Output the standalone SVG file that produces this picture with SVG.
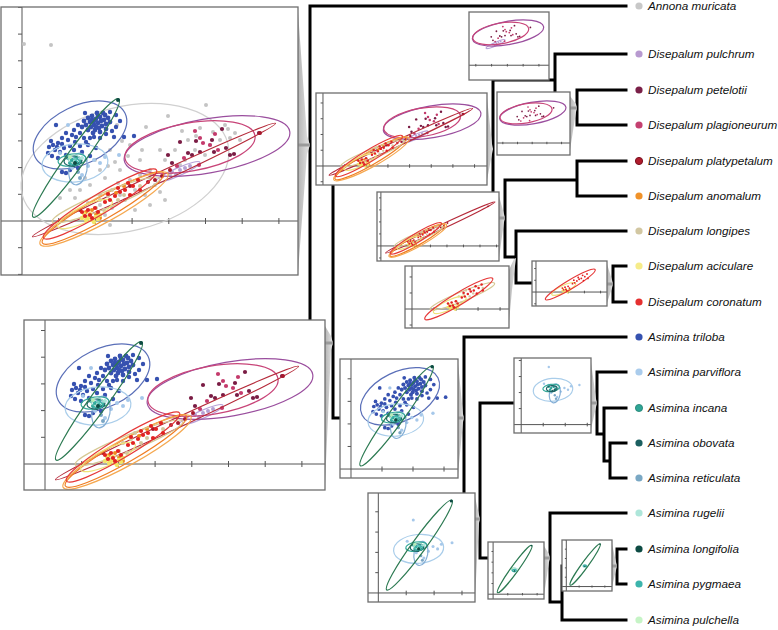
<svg xmlns="http://www.w3.org/2000/svg" width="778" height="630" viewBox="0 0 778 630">
<style>
.tr{fill:none;stroke:#000;stroke-width:3;stroke-linecap:square;stroke-linejoin:miter}
.e{fill:none;stroke-width:1.2;vector-effect:non-scaling-stroke}
.ax{fill:none;stroke:#555;stroke-width:1;vector-effect:non-scaling-stroke}
.pbg{fill:#fff;stroke:none}
.pfr{fill:none;stroke:#6e6e6e;stroke-width:1.3}
.sh{fill:url(#shd);stroke:none}
.sl{stroke:#9a9a9a;stroke-width:3}
.lb{font-family:"Liberation Sans",Arial,sans-serif;font-style:italic;font-size:11.7px;fill:#111}
</style>
<defs>
<linearGradient id="shd" x1="0" y1="0" x2="1" y2="0"><stop offset="0" stop-color="#b4b4b4"/><stop offset="1" stop-color="#e6e6e6"/></linearGradient>
<clipPath id="cL1"><rect x="1" y="7" width="297" height="268"/></clipPath>
<clipPath id="cL2"><rect x="24" y="320" width="301" height="170"/></clipPath>
<clipPath id="cT"><rect x="469" y="12" width="80" height="68"/></clipPath>
<clipPath id="cP2"><rect x="497" y="92" width="73" height="63"/></clipPath>
<clipPath id="cM1"><rect x="316" y="93" width="171" height="92"/></clipPath>
<clipPath id="cM2"><rect x="377" y="192" width="122" height="69"/></clipPath>
<clipPath id="cM3"><rect x="405" y="266" width="104" height="62"/></clipPath>
<clipPath id="cS"><rect x="532" y="261" width="75" height="45"/></clipPath>
<clipPath id="cA1"><rect x="340" y="359" width="118" height="119"/></clipPath>
<clipPath id="cA2"><rect x="368" y="493" width="107" height="109"/></clipPath>
<clipPath id="cA5"><rect x="514" y="358" width="77" height="75"/></clipPath>
<clipPath id="cA3"><rect x="488" y="542" width="56" height="57"/></clipPath>
<clipPath id="cA4"><rect x="562" y="540" width="50" height="51"/></clipPath>

<g id="axes">
<line class="ax" x1="22" y1="-600" x2="22" y2="900"/>
<line class="ax" x1="-600" y1="221" x2="1000" y2="221"/>
<path class="ax" d="M58.7,218V224M95.4,218V224M132.1,218V224M168.8,218V224M205.5,218V224M242.2,218V224M278.9,218V224M315.6,218V224M352.3,218V224M18,194.3H22M18,167.6H22M18,140.9H22M18,114.2H22M18,87.5H22M18,60.8H22M18,34.1H22M18,7.4H22M18,-19.3H22M18,247.7H22M18,274.4H22M18,301.1H22"/>
</g>

<g id="sp-ann">
<ellipse class="e" stroke="#d0d0d0" cx="125" cy="169" rx="106" ry="62" transform="rotate(-14 125 169)"/>
<g fill="#c4c4c4">
<circle cx="24" cy="44" r="2"/><circle cx="51" cy="45" r="2"/><circle cx="206" cy="105" r="2"/><circle cx="168" cy="116" r="2"/><circle cx="146" cy="127" r="2"/><circle cx="117" cy="125" r="2"/><circle cx="200" cy="128" r="2"/><circle cx="213" cy="132" r="2"/><circle cx="225" cy="125" r="2"/><circle cx="188" cy="140" r="2"/><circle cx="160" cy="150" r="2"/><circle cx="140" cy="160" r="2"/><circle cx="120" cy="170" r="2"/><circle cx="105" cy="178" r="2"/><circle cx="95" cy="160" r="2"/><circle cx="110" cy="150" r="2"/><circle cx="130" cy="145" r="2"/><circle cx="150" cy="170" r="2"/><circle cx="165" cy="160" r="2"/><circle cx="175" cy="150" r="2"/><circle cx="155" cy="185" r="2"/><circle cx="135" cy="190" r="2"/><circle cx="120" cy="195" r="2"/><circle cx="100" cy="195" r="2"/><circle cx="90" cy="185" r="2"/><circle cx="80" cy="190" r="2"/><circle cx="75" cy="198" r="2"/><circle cx="100" cy="205" r="2"/><circle cx="112" cy="208" r="2"/><circle cx="125" cy="200" r="2"/><circle cx="145" cy="195" r="2"/><circle cx="160" cy="192" r="2"/><circle cx="130" cy="180" r="2"/><circle cx="118" cy="183" r="2"/><circle cx="140" cy="175" r="2"/><circle cx="150" cy="178" r="2"/><circle cx="170" cy="175" r="2"/><circle cx="185" cy="160" r="2"/><circle cx="195" cy="150" r="2"/><circle cx="210" cy="145" r="2"/><circle cx="220" cy="140" r="2"/><circle cx="230" cy="138" r="2"/><circle cx="240" cy="140" r="2"/><circle cx="205" cy="155" r="2"/><circle cx="180" cy="165" r="2"/><circle cx="115" cy="162" r="2"/><circle cx="100" cy="170" r="2"/><circle cx="85" cy="178" r="2"/><circle cx="70" cy="190" r="2"/><circle cx="60" cy="198" r="2"/><circle cx="88" cy="203" r="2"/><circle cx="105" cy="215" r="2"/><circle cx="135" cy="210" r="2"/><circle cx="150" cy="205" r="2"/><circle cx="165" cy="200" r="2"/><circle cx="110" cy="225" r="2"/><circle cx="228" cy="129" r="2"/><circle cx="235" cy="133" r="2"/><circle cx="196" cy="136" r="2"/><circle cx="182" cy="131" r="2"/><circle cx="122" cy="141" r="2"/><circle cx="108" cy="166" r="2"/><circle cx="128" cy="156" r="2"/><circle cx="142" cy="150" r="2"/>
</g>
</g>

<g id="sp-pet">
<ellipse class="e" stroke="#9a4e9e" cx="207" cy="146" rx="84" ry="27" transform="rotate(-10 207 146)"/>
<g fill="#7a1c44">
<circle cx="222" cy="129" r="2.1"/><circle cx="259" cy="133" r="2.1"/><circle cx="180" cy="142" r="2.1"/><circle cx="196" cy="141" r="2.1"/><circle cx="212" cy="140" r="2.1"/><circle cx="188" cy="153" r="2.1"/><circle cx="200" cy="152" r="2.1"/><circle cx="214" cy="152" r="2.1"/><circle cx="230" cy="155" r="2.1"/><circle cx="226" cy="148" r="2.1"/><circle cx="168" cy="155" r="2.1"/><circle cx="172" cy="163" r="2.1"/><circle cx="192" cy="155" r="2.1"/><circle cx="234" cy="154" r="2.1"/>
</g>
</g>
<g id="sp-pla">
<ellipse class="e" stroke="#c84478" cx="190" cy="147" rx="66" ry="24" transform="rotate(-10 190 147)"/>
<g fill="#c43a6c">
<circle cx="195" cy="131" r="2.1"/><circle cx="200" cy="138" r="2.1"/><circle cx="210" cy="145" r="2.1"/><circle cx="218" cy="150" r="2.1"/><circle cx="184" cy="158" r="2.1"/><circle cx="199" cy="165" r="2.1"/><circle cx="203" cy="143" r="2.1"/><circle cx="215" cy="134" r="2.1"/><circle cx="177" cy="166" r="2.1"/>
</g>
</g>
<g id="sp-pul">
<ellipse class="e" stroke="#b9a3d9" cx="178" cy="172" rx="24" ry="4" transform="rotate(-24 178 172)"/>
<g fill="#b4a0d4">
<circle cx="172" cy="172" r="2"/><circle cx="180" cy="170" r="2"/><circle cx="185" cy="168" r="2"/><circle cx="190" cy="166" r="2"/><circle cx="176" cy="174" r="2"/>
</g>
</g>
<g id="sp-platy">
<ellipse class="e" stroke="#b52a3a" cx="154" cy="180" rx="134" ry="5" transform="rotate(-25 154 180)"/>
<g fill="#a8182c">
<circle cx="148" cy="182" r="2"/><circle cx="155" cy="180" r="2"/><circle cx="162" cy="176" r="2"/><circle cx="170" cy="170" r="2"/><circle cx="80" cy="210" r="2"/><circle cx="130" cy="186" r="2"/><circle cx="260" cy="133" r="2"/>
</g>
</g>
<g id="sp-lgp">
<ellipse class="e" stroke="#d6c894" cx="106" cy="200" rx="58" ry="8" transform="rotate(-22 106 200)"/>
<g fill="#d2c69e">
<circle cx="100" cy="200" r="2"/><circle cx="108" cy="196" r="2"/><circle cx="118" cy="200" r="2"/><circle cx="112" cy="190" r="2"/><circle cx="124" cy="195" r="2"/><circle cx="96" cy="208" r="2"/><circle cx="104" cy="210" r="2"/><circle cx="140" cy="186" r="2"/>
</g>
</g>
<g id="sp-ano">
<ellipse class="e" stroke="#f07d22" cx="103" cy="208" rx="70" ry="11" transform="rotate(-30 103 208)"/>
<ellipse class="e" stroke="#f5a850" cx="104" cy="209" rx="73" ry="13" transform="rotate(-29 104 209)"/>
<g fill="#f08a20">
<circle cx="86" cy="212" r="2"/><circle cx="92" cy="210" r="2"/><circle cx="96" cy="214" r="2"/><circle cx="116" cy="193" r="2"/><circle cx="124" cy="186" r="2"/><circle cx="100" cy="218" r="2"/>
</g>
</g>
<g id="sp-aci">
<ellipse class="e" stroke="#efe27a" cx="85" cy="214" rx="30" ry="8" transform="rotate(-25 85 214)"/>
<g fill="#f2e466">
<circle cx="84" cy="214" r="2.2"/><circle cx="88" cy="218" r="2.2"/><circle cx="92" cy="220" r="2.2"/><circle cx="96" cy="217" r="2.2"/><circle cx="90" cy="214" r="2.2"/><circle cx="94" cy="222" r="2.2"/><circle cx="86" cy="220" r="2.2"/><circle cx="98" cy="219" r="2.2"/><circle cx="100" cy="215" r="2.2"/><circle cx="82" cy="218" r="2.2"/>
</g>
</g>
<g id="sp-cor">
<ellipse class="e" stroke="#e63838" cx="100" cy="204" rx="66" ry="10" transform="rotate(-31 100 204)"/>
<g fill="#e22222">
<circle cx="82" cy="212" r="2.1"/><circle cx="88" cy="210" r="2.1"/><circle cx="90" cy="215" r="2.1"/><circle cx="95" cy="208" r="2.1"/><circle cx="105" cy="202" r="2.1"/><circle cx="110" cy="200" r="2.1"/><circle cx="115" cy="196" r="2.1"/><circle cx="120" cy="192" r="2.1"/><circle cx="125" cy="190" r="2.1"/><circle cx="130" cy="195" r="2.1"/><circle cx="133" cy="186" r="2.1"/><circle cx="128" cy="183" r="2.1"/><circle cx="118" cy="188" r="2.1"/><circle cx="108" cy="194" r="2.1"/><circle cx="140" cy="190" r="2.1"/><circle cx="85" cy="216" r="2.1"/><circle cx="92" cy="218" r="2.1"/><circle cx="98" cy="212" r="2.1"/><circle cx="138" cy="180" r="2.1"/>
</g>
</g>

<g id="sp-tri">
<ellipse class="e" stroke="#5a6fb8" cx="80" cy="135" rx="50" ry="29" transform="rotate(-26 80 135)"/>
<g fill="#3651b0">
<circle cx="88" cy="118" r="2.4"/><circle cx="92" cy="116" r="2.4"/><circle cx="96" cy="119" r="2.4"/><circle cx="100" cy="117" r="2.4"/><circle cx="104" cy="120" r="2.4"/><circle cx="98" cy="123" r="2.4"/><circle cx="94" cy="125" r="2.4"/><circle cx="90" cy="122" r="2.4"/><circle cx="102" cy="126" r="2.4"/><circle cx="106" cy="124" r="2.4"/><circle cx="99" cy="128" r="2.4"/><circle cx="95" cy="130" r="2.4"/><circle cx="91" cy="127" r="2.4"/><circle cx="86" cy="125" r="2.4"/><circle cx="103" cy="113" r="2.4"/><circle cx="97" cy="113" r="2.4"/><circle cx="108" cy="118" r="2.4"/><circle cx="84" cy="121" r="2.4"/><circle cx="100" cy="132" r="2.4"/><circle cx="106" cy="129" r="2.4"/><circle cx="93" cy="133" r="2.4"/><circle cx="88" cy="130" r="2.4"/><circle cx="82" cy="127" r="2.4"/><circle cx="110" cy="122" r="2.4"/><circle cx="92" cy="120" r="2.4"/><circle cx="96" cy="127" r="2.4"/><circle cx="101" cy="121" r="2.4"/><circle cx="105" cy="115" r="2.4"/><circle cx="98" cy="116" r="2.4"/><circle cx="94" cy="121" r="2.4"/>
<circle cx="78" cy="125" r="2.2"/><circle cx="74" cy="130" r="2.2"/><circle cx="80" cy="133" r="2.2"/><circle cx="76" cy="137" r="2.2"/><circle cx="72" cy="135" r="2.2"/><circle cx="66" cy="133" r="2.2"/><circle cx="84" cy="138" r="2.2"/><circle cx="62" cy="138" r="2.2"/><circle cx="68" cy="140" r="2.2"/><circle cx="58" cy="143" r="2.2"/><circle cx="53" cy="145" r="2.2"/><circle cx="49" cy="147" r="2.2"/><circle cx="55" cy="150" r="2.2"/><circle cx="60" cy="152" r="2.2"/><circle cx="48" cy="153" r="2.2"/><circle cx="64" cy="148" r="2.2"/><circle cx="70" cy="146" r="2.2"/><circle cx="66" cy="155" r="2.2"/><circle cx="52" cy="156" r="2.2"/><circle cx="58" cy="158" r="2.2"/><circle cx="75" cy="142" r="2.2"/><circle cx="80" cy="146" r="2.2"/><circle cx="86" cy="142" r="2.2"/><circle cx="90" cy="138" r="2.2"/><circle cx="94" cy="137" r="2.2"/><circle cx="100" cy="138" r="2.2"/><circle cx="106" cy="134" r="2.2"/><circle cx="112" cy="131" r="2.2"/><circle cx="116" cy="127" r="2.2"/><circle cx="114" cy="137" r="2.2"/><circle cx="124" cy="137" r="2.2"/><circle cx="134" cy="136" r="2.2"/><circle cx="120" cy="121" r="2.2"/><circle cx="116" cy="115" r="2.2"/><circle cx="88" cy="145" r="2.2"/><circle cx="82" cy="152" r="2.2"/><circle cx="74" cy="150" r="2.2"/><circle cx="62" cy="172" r="2.2"/><circle cx="66" cy="173" r="2.2"/><circle cx="70" cy="170" r="2.2"/><circle cx="78" cy="168" r="2.2"/><circle cx="90" cy="156" r="2.2"/><circle cx="96" cy="148" r="2.2"/><circle cx="56" cy="125" r="2.2"/><circle cx="110" cy="112" r="2.2"/><circle cx="85" cy="113" r="2.2"/><circle cx="51" cy="141" r="2.2"/><circle cx="57" cy="147" r="2.2"/><circle cx="62" cy="144" r="2.2"/>
</g>
</g>
<g id="sp-par">
<ellipse class="e" stroke="#a9cdea" cx="75" cy="163" rx="33" ry="19" transform="rotate(-5 75 163)"/>
<g fill="#a6c8ea">
<circle cx="60" cy="153" r="2"/><circle cx="68" cy="155" r="2"/><circle cx="78" cy="158" r="2"/><circle cx="86" cy="160" r="2"/><circle cx="94" cy="160" r="2"/><circle cx="100" cy="163" r="2"/><circle cx="105" cy="157" r="2"/><circle cx="88" cy="166" r="2"/><circle cx="72" cy="168" r="2"/><circle cx="82" cy="175" r="2"/><circle cx="68" cy="125" r="2"/><circle cx="119" cy="155" r="2"/>
</g>
</g>
<g id="sp-ret">
<ellipse class="e" stroke="#85afd6" cx="78" cy="169" rx="9" ry="16" transform="rotate(10 78 169)"/>
<g fill="#7aa6c6"><circle cx="78" cy="172" r="2"/><circle cx="80" cy="178" r="2"/></g>
</g>
<g id="sp-inc">
<ellipse class="e" stroke="#35aa9a" cx="72" cy="160" rx="14" ry="6" transform="rotate(-8 72 160)"/>
<g fill="#2fa596"><circle cx="68" cy="158" r="2"/><circle cx="72" cy="160" r="2"/><circle cx="76" cy="158" r="2"/><circle cx="70" cy="163" r="2"/><circle cx="80" cy="161" r="2"/></g>
</g>
<g id="sp-obo">
<ellipse class="e" stroke="#1d6464" cx="73" cy="161" rx="9" ry="5" transform="rotate(-5 73 161)"/>
<g fill="#1b5f60"><circle cx="74" cy="165" r="2"/><circle cx="78" cy="163" r="2"/></g>
</g>
<g id="sp-rug">
<ellipse class="e" stroke="#9edccb" cx="74" cy="159" rx="6" ry="4"/>
<g fill="#aee6da"><circle cx="75" cy="160" r="2"/><circle cx="82" cy="158" r="2"/></g>
</g>
<g id="sp-pch">
<g fill="#b8ecb8"><circle cx="70" cy="157" r="2"/></g>
</g>
<g id="sp-pyg">
<ellipse class="e" stroke="#3bb3a8" cx="75" cy="162" rx="5" ry="3"/>
<g fill="#3cb4ac"><circle cx="76" cy="162" r="2"/></g>
</g>
<g id="sp-lon">
<ellipse class="e" stroke="#2c7a52" cx="76" cy="158" rx="73" ry="9" transform="rotate(-54 76 158)"/>
<g fill="#0d4b43"><circle cx="118" cy="100" r="2"/><circle cx="75" cy="163" r="2"/></g>
</g>

<g id="g-pp"><use href="#sp-pet"/><use href="#sp-pla"/></g>
<g id="g-pn"><use href="#sp-pul"/><use href="#g-pp"/></g>
<g id="g-ac"><use href="#sp-aci"/><use href="#sp-cor"/></g>
<g id="g-d3"><use href="#sp-lgp"/><use href="#g-ac"/></g>
<g id="g-d5"><use href="#sp-platy"/><use href="#sp-ano"/><use href="#g-d3"/></g>
<g id="g-dis"><use href="#g-pn"/><use href="#g-d5"/></g>
<g id="g-a4"><use href="#sp-par"/><use href="#sp-ret"/><use href="#sp-inc"/><use href="#sp-obo"/></g>
<g id="g-lp"><use href="#sp-pyg"/><use href="#sp-lon"/></g>
<g id="g-a3"><use href="#sp-rug"/><use href="#sp-pch"/><use href="#g-lp"/></g>
<g id="g-ar"><use href="#g-a4"/><use href="#g-a3"/></g>
<g id="g-asi"><use href="#sp-tri"/><use href="#g-ar"/></g>
<g id="g-in"><use href="#g-dis"/><use href="#g-asi"/></g>
<g id="g-all"><use href="#sp-ann"/><use href="#g-in"/></g>
</defs>

<rect x="0" y="0" width="778" height="630" fill="#fff"/>

<g id="connectors">
<path class="tr" d="M310,6H626M310,6V343H333M333,149V418M333,149H493M333,418H340
M493,80V218M493,80H555M555,54V108M555,54H626M555,108H577M577,90V125M577,90H626M577,125H626
M493,218H505M505,180V257M505,180H577M577,161V196M577,161H626M577,196H626
M505,257H516M516,231V283M516,231H626M516,283H613M613,266V302M613,266H626M613,302H626
M464,337V519M464,337H626M464,519H480
M480,403V558M480,403H597M597,372V434M597,372H626M597,434H604M604,408V461M604,408H626M604,461H610M610,443V478M610,443H626M610,478H626
M480,558H550M550,513V602M550,513H626M550,602H562M562,566V620M562,620H626M562,566H617M617,549V584M617,549H626M617,584H626"/>
<polygon class="sh" points="298,12 307,136 310,145 307,154 298,272"/>
<line class="sl" x1="298" y1="145" x2="310" y2="145"/>
<polygon class="sh" points="325,326 331,336 333,343 331,350 325,484"/>
<line class="sl" x1="325" y1="343" x2="333" y2="343"/>
<polygon class="sh" points="487,98 492,144 493,149 492,154 487,180"/>
<polygon class="sh" points="570,96 576,104 577,108 576,112 570,150"/>
<line class="sl" x1="570" y1="108" x2="577" y2="108"/>
<polygon class="sh" points="499,196 504,214 505,218 504,222 499,258"/>
<line class="sl" x1="499" y1="218" x2="505" y2="218"/>
<polygon class="sh" points="509,270 514,259 516,258 512,290 509,322"/>
<polygon class="sh" points="607,264 612,280 613,284 612,288 607,303"/>
<line class="sl" x1="607" y1="284" x2="613" y2="284"/>
<polygon class="sh" points="458,363 463,414 464,418 463,422 458,474"/>
<line class="sl" x1="458" y1="418" x2="464" y2="418"/>
<polygon class="sh" points="475,497 479,515 480,519 479,523 475,598"/>
<line class="sl" x1="475" y1="519" x2="480" y2="519"/>
<polygon class="sh" points="591,362 596,399 597,403 596,407 591,429"/>
<line class="sl" x1="591" y1="403" x2="597" y2="403"/>
<polygon class="sh" points="544,546 549,554 550,558 549,562 544,595"/>
<line class="sl" x1="544" y1="558" x2="550" y2="558"/>
<polygon class="sh" points="612,544 616,562 617,566 616,570 612,587"/>
<line class="sl" x1="612" y1="566" x2="617" y2="566"/>
</g>

<g id="panel-L1"><rect class="pbg" x="1" y="7" width="297" height="268"/><g clip-path="url(#cL1)"><use href="#axes"/><use href="#g-all"/></g><rect class="pfr" x="1" y="7" width="297" height="268"/></g>
<g id="panel-L2"><rect class="pbg" x="24" y="320" width="301" height="170"/><g clip-path="url(#cL2)"><g transform="translate(23,243)"><use href="#axes"/><use href="#g-in"/></g></g><rect class="pfr" x="24" y="320" width="301" height="170"/></g>
<g id="panel-T"><rect class="pbg" x="469" y="12" width="80" height="68"/><g clip-path="url(#cT)"><g transform="translate(419,-29.8) scale(0.43)"><use href="#axes"/><use href="#g-pn"/></g></g><rect class="pfr" x="469" y="12" width="80" height="68"/></g>
<g id="panel-P2"><rect class="pbg" x="497" y="92" width="73" height="63"/><g clip-path="url(#cP2)"><g transform="translate(450,54.6) scale(0.4)"><use href="#axes"/><use href="#g-pp"/></g></g><rect class="pfr" x="497" y="92" width="73" height="63"/></g>
<g id="panel-M1"><rect class="pbg" x="316" y="93" width="171" height="92"/><g clip-path="url(#cM1)"><g transform="translate(310,35.6) scale(0.59)"><use href="#axes"/><use href="#g-dis"/></g></g><rect class="pfr" x="316" y="93" width="171" height="92"/></g>
<g id="panel-M2"><rect class="pbg" x="377" y="192" width="122" height="69"/><g clip-path="url(#cM2)"><g transform="translate(371,146.5) scale(0.45)"><use href="#axes"/><use href="#g-d5"/></g></g><rect class="pfr" x="377" y="192" width="122" height="69"/></g>
<g id="panel-M3"><rect class="pbg" x="405" y="266" width="104" height="62"/><g clip-path="url(#cM3)"><g transform="translate(398.8,176.4) scale(0.6)"><use href="#axes"/><use href="#g-d3"/></g></g><rect class="pfr" x="405" y="266" width="104" height="62"/></g>
<g id="panel-S"><rect class="pbg" x="532" y="261" width="75" height="45"/><g clip-path="url(#cS)"><g transform="translate(526.3,194.8) scale(0.44)"><use href="#axes"/><use href="#g-ac"/></g></g><rect class="pfr" x="532" y="261" width="75" height="45"/></g>
<g id="panel-A1"><rect class="pbg" x="340" y="359" width="118" height="119"/><g clip-path="url(#cA1)"><g transform="translate(332.4,282.3) scale(0.845)"><use href="#axes"/><use href="#g-asi"/></g></g><rect class="pfr" x="340" y="359" width="118" height="119"/></g>
<g id="panel-A2"><rect class="pbg" x="368" y="493" width="107" height="109"/><g clip-path="url(#cA2)"><g transform="translate(361.6,425) scale(0.76)"><use href="#axes"/><use href="#g-ar"/></g></g><rect class="pfr" x="368" y="493" width="107" height="109"/></g>
<g id="panel-A5"><rect class="pbg" x="514" y="358" width="77" height="75"/><g clip-path="url(#cA5)"><g transform="translate(508,292) scale(0.6)"><use href="#axes"/><use href="#g-a4"/></g></g><rect class="pfr" x="514" y="358" width="77" height="75"/></g>
<g id="panel-A3"><rect class="pbg" x="488" y="542" width="56" height="57"/><g clip-path="url(#cA3)"><g transform="translate(484.3,505.8) scale(0.4)"><use href="#axes"/><use href="#g-a3"/></g></g><rect class="pfr" x="488" y="542" width="56" height="57"/></g>
<g id="panel-A4"><rect class="pbg" x="562" y="540" width="50" height="51"/><g clip-path="url(#cA4)"><g transform="translate(558.6,509.2) scale(0.35)"><use href="#axes"/><use href="#g-lp"/></g></g><rect class="pfr" x="562" y="540" width="50" height="51"/></g>

<g id="tip-annona"><circle cx="639" cy="6" r="3.6" fill="#c8c8c8"/><text class="lb" x="648" y="10.2">Annona muricata</text></g>
<g id="tip-pulchrum"><circle cx="639" cy="54" r="3.6" fill="#b89ad0"/><text class="lb" x="648" y="58.2">Disepalum pulchrum</text></g>
<g id="tip-petelotii"><circle cx="639" cy="90" r="3.6" fill="#7a2048"/><text class="lb" x="648" y="94.2">Disepalum petelotii</text></g>
<g id="tip-plagioneurum"><circle cx="639" cy="125" r="3.6" fill="#c44070"/><text class="lb" x="648" y="129.2">Disepalum plagioneurum</text></g>
<g id="tip-platypetalum"><circle cx="639" cy="161" r="3.6" fill="#b01c2c" stroke="#7a1020" stroke-width="1"/><text class="lb" x="648" y="165.2">Disepalum platypetalum</text></g>
<g id="tip-anomalum"><circle cx="639" cy="196" r="3.6" fill="#f0922a"/><text class="lb" x="648" y="200.2">Disepalum anomalum</text></g>
<g id="tip-longipes"><circle cx="639" cy="231" r="3.6" fill="#d2c7a2"/><text class="lb" x="648" y="235.2">Disepalum longipes</text></g>
<g id="tip-aciculare"><circle cx="639" cy="266" r="3.6" fill="#f6ec8a"/><text class="lb" x="648" y="270.2">Disepalum aciculare</text></g>
<g id="tip-coronatum"><circle cx="639" cy="302" r="3.6" fill="#e53030"/><text class="lb" x="648" y="306.2">Disepalum coronatum</text></g>
<g id="tip-triloba"><circle cx="639" cy="337" r="3.6" fill="#3552b0"/><text class="lb" x="648" y="341.2">Asimina triloba</text></g>
<g id="tip-parviflora"><circle cx="639" cy="372" r="3.6" fill="#aaccec"/><text class="lb" x="648" y="376.2">Asimina parviflora</text></g>
<g id="tip-incana"><circle cx="639" cy="408" r="3.6" fill="#2fa596" stroke="#1e8070" stroke-width="0.8"/><text class="lb" x="648" y="412.2">Asimina incana</text></g>
<g id="tip-obovata"><circle cx="639" cy="443" r="3.6" fill="#1b5f60"/><text class="lb" x="648" y="447.2">Asimina obovata</text></g>
<g id="tip-reticulata"><circle cx="639" cy="478" r="3.6" fill="#7aa8c4"/><text class="lb" x="648" y="482.2">Asimina reticulata</text></g>
<g id="tip-rugelii"><circle cx="639" cy="513" r="3.6" fill="#aee6da"/><text class="lb" x="648" y="517.2">Asimina rugelii</text></g>
<g id="tip-longifolia"><circle cx="639" cy="549" r="3.6" fill="#0d4b43"/><text class="lb" x="648" y="553.2">Asimina longifolia</text></g>
<g id="tip-pygmaea"><circle cx="639" cy="584" r="3.6" fill="#3cb4ac"/><text class="lb" x="648" y="588.2">Asimina pygmaea</text></g>
<g id="tip-pulchella"><circle cx="639" cy="620" r="3.6" fill="#c6f4c6"/><text class="lb" x="648" y="624.2">Asimina pulchella</text></g>
</svg>
